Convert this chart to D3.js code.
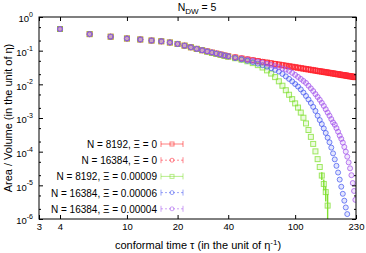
<!DOCTYPE html>
<html lang="en">
<head>
<meta charset="UTF-8">
<title>N_DW = 5</title>
<script src="https://d3js.org/d3.v7.min.js"></script>
<style>
  body { margin: 0; background: #fff; }
  text { font-family: "Liberation Sans", Arial, sans-serif; fill: #000; }
</style>
</head>
<body>
<svg id="chart" width="366" height="253"></svg>
<script>
// conformal time (x) values, shared by all series
const tau = [4, 6, 8, 10, 12, 14, 16, 18, 20, 22, 24, 26, 28, 30, 32, 34, 36, 38, 40,
  44, 48, 52, 56, 60, 64, 68, 72, 76, 80, 84, 88, 92, 96, 100, 104, 108, 112, 116, 120,
  124, 128, 132, 136, 140, 144, 148, 152, 156, 160, 164, 168, 172, 176, 180, 184, 188,
  192, 196, 200, 204, 208, 212, 216, 220, 224, 228];

// early times, all curves sit on top of each other
const early = [0.44, 0.31, 0.26, 0.23, 0.215, 0.2, 0.19, 0.175, 0.158, 0.141, 0.126, 0.113,
  0.103, 0.095, 0.088, 0.082, 0.077, 0.072, 0.068];

const red8192 = early.concat([0.0629, 0.0586, 0.0548, 0.0516, 0.0488, 0.0462, 0.0440, 0.0420,
  0.0402, 0.0385, 0.0370, 0.0356, 0.0343, 0.0332, 0.0321, 0.0311, 0.0301, 0.0292, 0.0284,
  0.0276, 0.0269, 0.0262, 0.0255, 0.0249, 0.0243, 0.0238, 0.0233, 0.0228, 0.0223, 0.0218,
  0.0214, 0.0210, 0.0206, 0.0202, 0.0198, 0.0195, 0.0191, 0.0188, 0.0185, 0.0182, 0.0179,
  0.0176, 0.0173, 0.0171, 0.0168, 0.0166, 0.0163]);

const red16384 = early.concat([0.0640, 0.0596, 0.0556, 0.0525, 0.0497, 0.0470, 0.0448, 0.0428,
  0.0409, 0.0392, 0.0377, 0.0363, 0.0350, 0.0338, 0.0327, 0.0317, 0.0307, 0.0298, 0.0290,
  0.0282, 0.0274, 0.0267, 0.0260, 0.0254, 0.0248, 0.0243, 0.0238, 0.0233, 0.0228, 0.0223,
  0.0219, 0.0214, 0.0210, 0.0206, 0.0202, 0.0199, 0.0195, 0.0192, 0.0189, 0.0186, 0.0183,
  0.0180, 0.0177, 0.0174, 0.0172, 0.0169, 0.0166]);

const green8192 = early.slice(0, 13).concat([0.093, 0.086, 0.080, 0.075, 0.070, 0.066,
  0.0596, 0.0537, 0.0484, 0.0427, 0.0372, 0.0316, 0.026, 0.0209, 0.0164, 0.0123, 0.0091,
  0.00668, 0.0049, 0.00363, 0.00272, 0.00204, 0.00145, 0.00102, 6.9e-4, 4.4e-4, 2.75e-4,
  1.7e-4, 1.02e-4, 6.0e-5, 3.5e-5, 1.95e-5, 1.1e-5, 6.3e-6, 2.5e-6]);
// error bars of the green tail (last four points)
const greenErr = [5e-6, 4e-6, 3e-6, 3e-6];

const blue16384 = early.concat([0.0603, 0.055, 0.0501, 0.0457, 0.0412, 0.0372, 0.0335, 0.0302,
  0.0269, 0.024, 0.0204, 0.0172, 0.0145, 0.0122, 0.0102, 0.0086, 0.00708, 0.00569, 0.00452,
  0.00355, 0.00279, 0.00214, 0.00162, 0.00117, 8.7e-4, 6.6e-4, 4.9e-4, 3.6e-4, 2.6e-4,
  1.9e-4, 1.32e-4, 8.9e-5, 5.9e-5, 3.8e-5, 2.4e-5, 1.48e-5, 9.1e-6, 5.6e-6, 3.5e-6, 2.2e-6,
  1.4e-6]);

const purple16384 = early.concat([0.0624, 0.0582, 0.0543, 0.0507, 0.0473, 0.0442, 0.0407,
  0.0376, 0.0347, 0.032, 0.0295, 0.0275, 0.0251, 0.0219, 0.0191, 0.0166, 0.0145, 0.0126,
  0.011, 0.0091, 0.00759, 0.00631, 0.00513, 0.00422, 0.00347, 0.00282, 0.00229, 0.00182,
  0.00145, 0.00117, 9.3e-4, 7.4e-4, 6.3e-4, 5.0e-4, 3.9e-4, 3.0e-4, 2.4e-4, 1.86e-4,
  1.38e-4, 1.0e-4, 7.1e-5, 4.8e-5, 3.2e-5, 2.0e-5, 1.17e-5, 6.8e-6, 3.7e-6]);

const legendLabels = ["N = 8192, \u039E = 0", "N = 16384, \u039E = 0", "N = 8192, \u039E = 0.00009",
  "N = 16384, \u039E = 0.00006", "N = 16384, \u039E = 0.00004"];

const xTicks = [3, 4, 10, 20, 40, 100, 230];
const yTicks = [1, 1e-1, 1e-2, 1e-3, 1e-4, 1e-5, 1e-6];
const yExp = ["0", "-1", "-2", "-3", "-4", "-5", "-6"];

const series = [
  { name: legendLabels[0], values: red8192, color: "#ff1818", shape: "square", dash: null },
  { name: legendLabels[1], values: red16384, color: "#ff2838", shape: "circle", dash: "2,2" },
  { name: legendLabels[2], values: green8192, color: "#80e030", shape: "square", dash: null, err: greenErr },
  { name: legendLabels[3], values: blue16384, color: "#4a5cf0", shape: "circle", dash: "2,2" },
  { name: legendLabels[4], values: purple16384, color: "#a455ec", shape: "circle", dash: "2,2" }
];

const svg = d3.select("#chart");
const x = d3.scaleLog().domain([3, 230]).range([39, 356]);
const y = d3.scaleLog().domain([1e-6, 1]).range([219, 17]);

svg.append("clipPath").attr("id", "clip")
  .append("rect").attr("x", 39).attr("y", 17).attr("width", 317).attr("height", 202);

const plot = svg.append("g").attr("clip-path", "url(#clip)");

series.forEach(s => {
  const pts = s.values.map((v, i) => ({ t: tau[i], v: v }));
  const g = plot.append("g").attr("stroke", s.color).attr("fill", s.color)
    .attr("fill-opacity", 0.15).attr("stroke-width", 1);
  if (s.err) {
    const start = pts.length - s.err.length;
    s.err.forEach((e, k) => {
      const p = pts[start + k];
      const lo = p.v - e > 0 ? y(p.v - e) : 230;
      g.append("line").attr("x1", x(p.t)).attr("x2", x(p.t))
        .attr("y1", y(p.v + e)).attr("y2", lo).attr("stroke-width", 1.4);
    });
  }
  if (s.shape === "square") {
    g.selectAll("rect").data(pts).enter().append("rect")
      .attr("x", d => x(d.t) - 2.5).attr("y", d => y(d.v) - 2.5)
      .attr("width", 5).attr("height", 5).attr("stroke-opacity", 0.75);
  } else {
    g.selectAll("circle").data(pts).enter().append("circle")
      .attr("cx", d => x(d.t)).attr("cy", d => y(d.v)).attr("r", 2.5)
      .attr("stroke-opacity", 0.75);
  }
});

// axes: ticks point inward, mirrored on top and right
const fmt = d3.format("d");
svg.append("g").attr("transform", "translate(0,219)")
  .call(d3.axisBottom(x).tickValues(xTicks).tickFormat(fmt).tickSizeInner(-4).tickSizeOuter(0).tickPadding(4));
svg.append("g").attr("transform", "translate(0,17)")
  .call(d3.axisTop(x).tickValues(xTicks).tickFormat("").tickSizeInner(-4).tickSizeOuter(0));
const axL = svg.append("g").attr("transform", "translate(39,0)")
  .call(d3.axisLeft(y).tickValues(yTicks).tickSizeInner(-4).tickSizeOuter(0).tickPadding(6));
svg.append("g").attr("transform", "translate(356,0)")
  .call(d3.axisRight(y).tickValues(yTicks).tickFormat("").tickSizeInner(-4).tickSizeOuter(0));

// minor y ticks
const minor = [];
yTicks.slice(1).forEach(d => [2, 5].forEach(m => minor.push(d * m)));
svg.append("g").attr("transform", "translate(39,0)")
  .call(d3.axisLeft(y).tickValues(minor).tickFormat("").tickSizeInner(-2).tickSizeOuter(0));
svg.append("g").attr("transform", "translate(356,0)")
  .call(d3.axisRight(y).tickValues(minor).tickFormat("").tickSizeInner(-2).tickSizeOuter(0));

svg.selectAll(".domain").remove();
svg.selectAll(".tick line").attr("stroke", "#000");
svg.selectAll(".tick text").attr("font-family", null).style("font-size", "9.5px");

axL.selectAll(".tick text").each(function(d, i) {
  const t = d3.select(this).text("10").attr("dy", "0.5em");
  t.append("tspan").attr("dy", "-0.75em").style("font-size", "7px").text(yExp[i]);
});

svg.append("rect").attr("x", 39).attr("y", 17).attr("width", 317).attr("height", 202)
  .attr("fill", "none").attr("stroke", "#000").attr("stroke-width", 1);

// title
const title = svg.append("text").attr("x", 197).attr("y", 11).attr("text-anchor", "middle")
  .style("font-size", "10.5px").text("N");
title.append("tspan").attr("dy", 3).style("font-size", "8px").text("DW");
title.append("tspan").attr("dy", -3).text(" = 5");

// axis labels
const xl = svg.append("text").attr("x", 198).attr("y", 249).attr("text-anchor", "middle")
  .style("font-size", "11px").text("conformal time \u03C4 (in the unit of \u03B7");
xl.append("tspan").attr("dy", -4).style("font-size", "8px").text("-1");
xl.append("tspan").attr("dy", 4).text(")");

svg.append("text").attr("transform", "translate(12,118) rotate(-90)").attr("text-anchor", "middle")
  .style("font-size", "11px").text("Area / Volume (in the unit of \u03B7)");

// legend
const leg = svg.append("g");
series.forEach((s, i) => {
  const yy = 144 + i * 16.2;
  leg.append("text").attr("x", 157).attr("y", yy + 4).attr("text-anchor", "end")
    .style("font-size", "10px").text(s.name);
  const g = leg.append("g").attr("stroke", s.color).attr("fill", "none").attr("stroke-opacity", 0.55);
  g.append("line").attr("x1", 161).attr("x2", 183).attr("y1", yy).attr("y2", yy)
    .attr("stroke-dasharray", s.dash);
  g.append("line").attr("x1", 161).attr("x2", 161).attr("y1", yy - 3).attr("y2", yy + 3);
  g.append("line").attr("x1", 183).attr("x2", 183).attr("y1", yy - 3).attr("y2", yy + 3);
  if (s.shape === "square") {
    g.append("rect").attr("x", 170).attr("y", yy - 2).attr("width", 4).attr("height", 4);
  } else {
    g.append("circle").attr("cx", 172).attr("cy", yy).attr("r", 2);
  }
});
</script>
</body>
</html>
